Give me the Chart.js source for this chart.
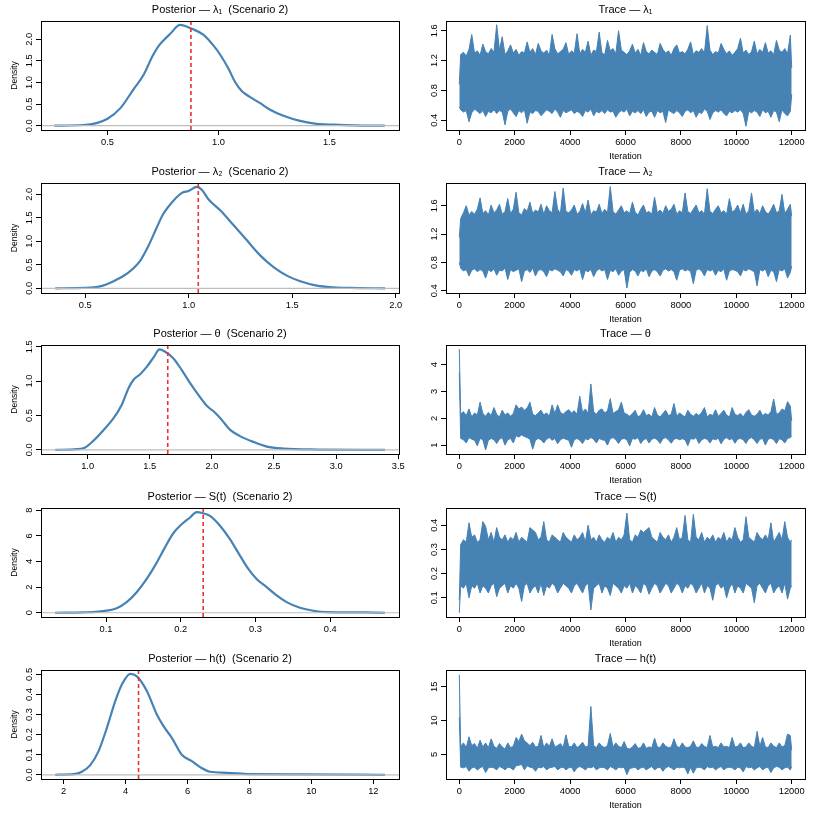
<!DOCTYPE html>
<html><head><meta charset="utf-8">
<script src="https://cdn.jsdelivr.net/npm/chart.js@4.4.1/dist/chart.umd.min.js"></script>
<style>
html,body{margin:0;padding:0;background:#fff;}
body{width:833px;height:819px;position:relative;overflow:hidden;}
canvas{position:absolute;}
</style></head><body>
<script>
// ---------------- DATA ----------------
const densTitles = ['Posterior — λ₁  (Scenario 2)','Posterior — λ₂  (Scenario 2)','Posterior — θ  (Scenario 2)','Posterior — S(t)  (Scenario 2)','Posterior — h(t)  (Scenario 2)'];
const traceTitles = ['Trace — λ₁','Trace — λ₂','Trace — θ','Trace — S(t)','Trace — h(t)'];

const dens1X = [0.26,0.39,0.45,0.50,0.557,0.617,0.662,0.70,0.715,0.73,0.752,0.782,0.827,0.880,0.933,0.978,1.008,1.045,1.075,1.105,1.143,1.188,1.233,1.293,1.368,1.443,1.518,1.608,1.75];
const dens1Y = [0,0.015,0.06,0.16,0.40,0.84,1.17,1.58,1.72,1.84,1.97,2.12,2.33,2.24,2.10,1.85,1.64,1.32,1.01,0.80,0.66,0.52,0.37,0.23,0.11,0.04,0.023,0.008,0];
const dens2X = [0.355,0.492,0.572,0.637,0.701,0.766,0.806,0.846,0.878,0.927,0.967,0.999,1.039,1.064,1.096,1.152,1.217,1.281,1.345,1.410,1.474,1.539,1.619,1.700,1.780,1.949];
const dens2Y = [0,0.007,0.04,0.15,0.31,0.59,0.91,1.30,1.59,1.87,2.03,2.07,2.156,2.09,1.89,1.66,1.34,1.02,0.70,0.45,0.27,0.15,0.057,0.02,0.007,0];
const dens3X = [0.740,0.914,0.981,1.048,1.129,1.209,1.276,1.330,1.370,1.423,1.477,1.531,1.579,1.624,1.691,1.758,1.825,1.906,1.959,2.026,2.080,2.147,2.227,2.334,2.442,2.576,2.844,3.393];
const dens3Y = [0,0.01,0.034,0.135,0.29,0.46,0.66,0.90,1.02,1.10,1.21,1.345,1.461,1.427,1.33,1.16,0.97,0.764,0.64,0.54,0.435,0.29,0.20,0.116,0.048,0.019,0.005,0];
const dens4X = [0.0318,0.0697,0.0964,0.1143,0.1276,0.141,0.1544,0.1655,0.1789,0.190,0.2012,0.2124,0.2213,0.2302,0.2391,0.2525,0.2658,0.2792,0.2904,0.3015,0.3149,0.3283,0.3416,0.3595,0.3773,0.3951,0.4264,0.4486,0.4732];
const dens4Y = [0,0.03,0.13,0.36,0.83,1.6,2.64,3.68,5.1,6.2,6.9,7.43,7.85,7.75,7.56,6.79,5.75,4.46,3.42,2.64,2.0,1.35,0.83,0.39,0.155,0.05,0.03,0.03,0];
const dens5X = [1.73,2.323,2.591,2.86,3.129,3.398,3.667,3.882,4.151,4.366,4.688,5.011,5.226,5.495,5.817,6.14,6.409,6.731,7.269,8.022,9.634,12.376];
const dens5Y = [0,0.003,0.015,0.048,0.118,0.234,0.367,0.45,0.503,0.49,0.417,0.30,0.242,0.184,0.10,0.068,0.038,0.015,0.01,0.003,0.002,0];
const estimates = [0.876, 1.046, 1.645, 0.230, 4.42];

const densXRange = [[0.20,1.814],[0.286,2.016],[0.625,3.506],[0.013,0.492],[1.27,12.83]];
const densYRange = [[-0.1,2.42],[-0.1,2.24],[-0.06,1.525],[-0.33,8.17],[-0.021,0.522]];
const densXTicks = [['0.5','1.0','1.5'],['0.5','1.0','1.5','2.0'],['1.0','1.5','2.0','2.5','3.0','3.5'],['0.1','0.2','0.3','0.4'],['2','4','6','8','10','12']];
const densYTicks = [['0.0','0.5','1.0','1.5','2.0'],['0.0','0.5','1.0','1.5','2.0'],['0.0','0.5','1.0','1.5'],['0','2','4','6','8'],['0.0','0.1','0.2','0.3','0.4','0.5']];

const traceIter = [0,
  50,150,250,350,450,550,650,750,850,950,
  1050,1150,1250,1350,1450,1550,1650,1750,1850,1950,
  2050,2150,2250,2350,2450,2550,2650,2750,2850,2950,
  3050,3150,3250,3350,3450,3550,3650,3750,3850,3950,
  4050,4150,4250,4350,4450,4550,4650,4750,4850,4950,
  5050,5150,5250,5350,5450,5550,5650,5750,5850,5950,
  6050,6150,6250,6350,6450,6550,6650,6750,6850,6950,
  7050,7150,7250,7350,7450,7550,7650,7750,7850,7950,
  8050,8150,8250,8350,8450,8550,8650,8750,8850,8950,
  9050,9150,9250,9350,9450,9550,9650,9750,9850,9950,
  10050,10150,10250,10350,10450,10550,10650,10750,10850,10950,
  11050,11150,11250,11350,11450,11550,11650,11750,11850,11950,
  12000];
const trace1Hi = [0.88,
  1.28,1.31,1.26,1.35,1.55,1.30,1.33,1.27,1.42,1.32,
  1.29,1.36,1.31,1.68,1.34,1.52,1.28,1.33,1.41,1.30,
  1.35,1.27,1.32,1.30,1.45,1.31,1.36,1.28,1.43,1.33,
  1.30,1.34,1.27,1.55,1.36,1.29,1.32,1.35,1.44,1.28,
  1.33,1.30,1.56,1.29,1.35,1.31,1.46,1.27,1.34,1.32,
  1.58,1.30,1.28,1.47,1.33,1.36,1.29,1.60,1.34,1.31,
  1.28,1.33,1.42,1.30,1.35,1.27,1.44,1.32,1.29,1.34,
  1.31,1.28,1.43,1.35,1.30,1.33,1.27,1.36,1.41,1.30,
  1.32,1.29,1.35,1.45,1.28,1.33,1.31,1.36,1.30,1.67,
  1.34,1.28,1.32,1.30,1.43,1.35,1.29,1.33,1.27,1.31,
  1.36,1.50,1.30,1.34,1.28,1.32,1.46,1.29,1.35,1.31,
  1.44,1.30,1.33,1.28,1.47,1.34,1.31,1.36,1.29,1.54,
  1.10];
const trace1Lo = [0.58,
  0.54,0.51,0.53,0.38,0.50,0.55,0.52,0.49,0.53,0.45,
  0.52,0.50,0.54,0.49,0.53,0.51,0.34,0.52,0.55,0.50,
  0.45,0.53,0.50,0.54,0.36,0.51,0.49,0.53,0.52,0.46,
  0.50,0.54,0.52,0.49,0.55,0.51,0.44,0.53,0.50,0.52,
  0.54,0.49,0.52,0.50,0.45,0.53,0.51,0.55,0.46,0.52,
  0.50,0.53,0.49,0.54,0.51,0.52,0.44,0.50,0.53,0.51,
  0.55,0.46,0.52,0.50,0.53,0.49,0.54,0.45,0.51,0.52,
  0.44,0.53,0.50,0.52,0.37,0.54,0.51,0.49,0.53,0.50,
  0.45,0.52,0.54,0.50,0.53,0.44,0.51,0.49,0.55,0.52,
  0.41,0.50,0.53,0.51,0.54,0.49,0.46,0.52,0.50,0.53,
  0.51,0.54,0.49,0.32,0.52,0.50,0.53,0.51,0.45,0.54,
  0.50,0.52,0.44,0.53,0.51,0.38,0.54,0.49,0.46,0.52,
  0.75];
const trace2Hi = [1.15,
  1.42,1.50,1.60,1.47,1.52,1.48,1.55,1.71,1.49,1.53,
  1.47,1.61,1.50,1.54,1.62,1.48,1.52,1.70,1.49,1.55,
  1.79,1.50,1.47,1.56,1.52,1.65,1.49,1.54,1.51,1.62,
  1.48,1.60,1.53,1.50,1.80,1.55,1.49,1.85,1.52,1.50,
  1.54,1.61,1.48,1.52,1.63,1.50,1.68,1.47,1.53,1.51,
  1.62,1.49,1.55,1.50,1.87,1.52,1.48,1.54,1.60,1.50,
  1.53,1.49,1.65,1.51,1.47,1.55,1.61,1.50,1.52,1.48,
  1.72,1.50,1.54,1.49,1.60,1.52,1.55,1.62,1.48,1.53,
  1.50,1.78,1.52,1.49,1.55,1.61,1.50,1.53,1.48,1.84,
  1.52,1.49,1.55,1.60,1.50,1.53,1.48,1.70,1.51,1.54,
  1.61,1.50,1.62,1.48,1.53,1.78,1.50,1.55,1.49,1.60,
  1.52,1.48,1.54,1.62,1.50,1.53,1.76,1.49,1.55,1.62,
  1.45];
const trace2Lo = [0.80,
  0.72,0.68,0.70,0.61,0.69,0.71,0.67,0.70,0.68,0.58,
  0.70,0.67,0.71,0.62,0.69,0.68,0.72,0.56,0.70,0.67,
  0.69,0.71,0.53,0.68,0.70,0.66,0.72,0.61,0.69,0.70,
  0.67,0.60,0.70,0.68,0.71,0.69,0.67,0.61,0.70,0.68,
  0.62,0.70,0.68,0.71,0.56,0.69,0.67,0.70,0.60,0.68,
  0.71,0.68,0.70,0.56,0.69,0.67,0.71,0.62,0.68,0.70,
  0.44,0.66,0.70,0.68,0.61,0.69,0.67,0.71,0.60,0.68,
  0.70,0.67,0.61,0.69,0.71,0.68,0.70,0.67,0.55,0.69,
  0.71,0.68,0.70,0.67,0.50,0.69,0.71,0.68,0.61,0.70,
  0.68,0.70,0.62,0.69,0.67,0.71,0.55,0.68,0.70,0.69,
  0.67,0.61,0.70,0.68,0.71,0.69,0.67,0.47,0.70,0.68,
  0.71,0.60,0.69,0.67,0.53,0.70,0.68,0.71,0.58,0.66,
  0.75];
const trace3Hi = [4.58,
  2.15,2.25,2.10,2.35,2.05,2.20,2.12,2.60,2.18,2.08,
  2.22,2.10,2.40,2.15,2.05,2.30,2.12,2.20,2.08,2.18,
  2.50,2.35,2.42,2.30,2.38,2.60,2.15,2.10,2.20,2.30,
  2.12,2.20,2.08,2.50,2.18,2.50,2.22,2.15,2.25,2.32,
  2.20,2.28,2.15,2.82,2.22,2.35,2.18,3.28,2.25,2.15,
  2.30,2.35,2.20,2.28,2.73,2.18,2.25,2.32,2.60,2.20,
  2.15,2.08,2.18,2.30,2.05,2.12,2.32,2.10,2.15,2.05,
  2.40,2.12,2.05,2.18,2.30,2.10,2.15,2.55,2.08,2.20,
  2.12,2.05,2.30,2.15,2.08,2.18,2.10,2.22,2.40,2.05,
  2.15,2.10,2.32,2.08,2.18,2.30,2.12,2.05,2.40,2.15,
  2.10,2.18,2.05,2.22,2.32,2.12,2.08,2.15,2.30,2.10,
  2.18,2.12,2.25,2.72,2.15,2.20,2.35,2.28,2.62,2.45,
  1.90];
const trace3Lo = [3.70,
  1.25,1.20,1.08,1.28,1.22,1.18,0.98,1.25,1.20,0.82,
  1.18,1.25,1.20,1.06,1.22,1.28,1.00,1.20,1.25,1.08,
  1.35,1.30,1.38,1.32,1.28,1.22,0.85,1.18,1.25,1.20,
  1.08,1.22,1.28,1.18,1.25,1.05,1.20,1.26,1.22,1.18,
  0.92,1.20,1.25,1.18,1.06,1.24,1.20,1.28,1.22,1.08,
  1.25,1.20,1.18,1.00,1.24,1.28,1.20,1.06,1.22,1.25,
  1.20,0.97,1.25,1.22,1.28,1.06,1.20,1.25,1.08,1.22,
  1.26,1.20,1.06,1.24,1.28,1.20,1.07,1.22,1.25,1.20,
  1.24,1.20,0.98,1.25,1.22,1.28,1.06,1.20,1.25,1.22,
  1.08,1.24,1.20,1.26,1.05,1.22,1.28,1.20,1.25,1.07,
  1.22,1.25,1.20,1.06,1.24,1.28,1.20,1.06,1.22,1.25,
  1.00,1.22,1.26,1.20,1.06,1.24,1.20,1.08,1.25,1.28,
  1.35];
const trace4Hi = [0.09,
  0.32,0.34,0.33,0.41,0.35,0.36,0.33,0.34,0.415,0.395,
  0.34,0.37,0.33,0.39,0.35,0.34,0.36,0.33,0.35,0.34,
  0.37,0.33,0.35,0.34,0.33,0.39,0.38,0.37,0.34,0.35,
  0.415,0.34,0.33,0.36,0.35,0.34,0.33,0.37,0.35,0.34,
  0.33,0.36,0.34,0.35,0.37,0.33,0.40,0.34,0.35,0.33,
  0.36,0.34,0.33,0.35,0.34,0.37,0.33,0.35,0.34,0.36,
  0.45,0.34,0.33,0.36,0.35,0.38,0.37,0.38,0.39,0.35,
  0.34,0.33,0.37,0.35,0.34,0.36,0.33,0.35,0.39,0.34,
  0.35,0.44,0.34,0.33,0.445,0.35,0.34,0.37,0.33,0.35,
  0.34,0.36,0.33,0.35,0.34,0.37,0.33,0.35,0.34,0.39,
  0.35,0.33,0.34,0.435,0.35,0.34,0.33,0.37,0.35,0.34,
  0.36,0.34,0.41,0.33,0.35,0.37,0.34,0.415,0.35,0.33,
  0.34];
const trace4Lo = [0.038,
  0.15,0.14,0.16,0.10,0.15,0.14,0.16,0.12,0.15,0.14,
  0.12,0.15,0.16,0.105,0.14,0.15,0.16,0.12,0.15,0.14,
  0.16,0.14,0.085,0.15,0.16,0.12,0.14,0.15,0.12,0.16,
  0.11,0.15,0.14,0.16,0.15,0.12,0.14,0.16,0.15,0.14,
  0.12,0.15,0.16,0.14,0.12,0.15,0.16,0.05,0.14,0.15,
  0.16,0.12,0.15,0.14,0.11,0.16,0.15,0.14,0.12,0.15,
  0.14,0.16,0.12,0.15,0.14,0.12,0.16,0.15,0.115,0.14,
  0.16,0.15,0.12,0.14,0.16,0.15,0.12,0.14,0.16,0.15,
  0.12,0.15,0.14,0.16,0.15,0.12,0.14,0.16,0.12,0.15,
  0.14,0.09,0.15,0.16,0.14,0.15,0.10,0.14,0.16,0.12,
  0.15,0.14,0.12,0.16,0.15,0.14,0.08,0.15,0.16,0.14,
  0.12,0.15,0.16,0.12,0.14,0.15,0.12,0.16,0.095,0.14,
  0.15];
const trace5Hi = [16.8,
  6.2,6.7,6.0,7.6,6.3,6.6,5.9,7.1,6.1,6.7,
  6.0,7.3,6.2,5.9,6.6,6.1,5.8,6.7,6.0,6.2,
  7.5,6.9,8.0,7.0,6.7,6.3,6.8,6.1,6.2,7.8,
  6.0,6.7,6.2,7.3,6.1,6.3,6.6,6.0,7.9,6.2,
  6.1,6.7,6.0,6.3,6.8,6.1,6.2,12.1,6.3,6.0,
  6.7,6.2,6.0,6.3,8.1,6.1,6.7,6.2,6.0,6.9,
  5.9,5.8,6.1,6.6,5.9,6.0,6.7,5.9,6.1,6.0,
  7.4,6.1,6.0,6.7,6.2,6.0,6.1,7.3,6.2,6.0,
  6.7,6.1,6.0,6.2,7.0,6.1,6.0,6.6,6.2,6.0,
  7.8,6.1,6.2,6.0,6.7,6.1,6.2,6.0,7.5,6.1,
  6.2,6.7,6.0,6.1,6.7,6.2,6.0,8.4,6.2,7.5,
  6.1,6.0,6.7,6.2,6.0,6.7,6.1,6.3,8.0,7.8,
  5.6];
const trace5Lo = [10.5,
  3.1,3.0,3.2,2.5,3.0,3.1,2.7,3.0,3.2,2.3,
  3.0,3.1,3.0,2.7,3.2,3.0,2.7,3.1,3.0,2.7,
  3.3,3.4,3.5,2.7,3.3,3.1,3.0,2.5,3.1,3.0,
  3.2,2.7,3.0,3.1,3.2,2.7,3.0,3.1,2.7,3.0,
  3.1,2.4,3.0,3.2,3.0,2.7,3.1,3.0,3.2,2.7,
  3.0,3.1,3.0,2.7,3.2,3.0,2.7,3.1,3.0,3.1,
  2.0,2.9,3.0,3.1,2.7,3.0,3.1,2.7,3.0,3.2,
  2.7,3.0,3.1,2.5,3.0,3.2,3.0,2.7,3.1,3.0,
  3.1,3.0,2.1,3.1,2.2,3.0,3.1,3.0,2.7,3.2,
  3.0,3.1,2.7,3.0,3.2,2.7,3.0,3.1,3.0,2.7,
  3.1,3.0,2.4,3.2,3.0,3.1,2.7,3.0,3.2,2.7,
  3.0,3.1,2.3,3.0,3.2,3.1,2.7,3.0,3.1,2.7,
  3.2];

const traceXRange = [-480, 12480];
const traceYRange = [[0.27,1.73],[0.37,1.92],[0.67,4.73],[0.021,0.471],[1.35,17.5]];
const traceXTicks = ['0','2000','4000','6000','8000','10000','12000'];
const traceYTicks = [['0.4','0.8','1.2','1.6'],['0.4','0.8','1.2','1.6'],['1','2','3','4'],['0.1','0.2','0.3','0.4'],['5','10','15']];

// ---------------- STYLE / LAYOUT ----------------
const FONT = '"Liberation Sans", Arial, Helvetica, sans-serif';
const BLUE = '#4682B4';
const rowTop = [21,183,345,508,670];
const rowBottom = [130,293,454,617,779];
const TITLE_H = 20, AXIS_H = 34, TL = 5;
const TICK_FONT = 9.3, TITLE_FONT = 11;
const mctx = document.createElement('canvas').getContext('2d');
mctx.font = TICK_FONT + 'px ' + FONT;
function yPad(labels, offset){
  const w = Math.max(...labels.map(s => mctx.measureText(s).width));
  return offset - TL - w / 2;
}
function makeCanvas(left, top, w, h){
  const c = document.createElement('canvas');
  c.width = w; c.height = h;
  c.style.left = left + 'px'; c.style.top = top + 'px';
  c.style.width = w + 'px'; c.style.height = h + 'px';
  document.body.appendChild(c);
  return c;
}
const boxPlugin = {
  id: 'box',
  afterDraw(chart){
    const a = chart.chartArea, ctx = chart.ctx;
    ctx.save();
    ctx.strokeStyle = '#000'; ctx.lineWidth = 1;
    ctx.strokeRect(Math.round(a.left) + 0.5, Math.round(a.top) + 0.5, Math.round(a.right - a.left), Math.round(a.bottom - a.top));
    ctx.restore();
  }
};
function xScale(labels, range, titleText){
  const vals = labels.map(Number);
  return {
    type: 'linear', min: range[0], max: range[1],
    afterBuildTicks: s => { s.ticks = vals.map(v => ({value: v})); },
    afterFit: s => { s.height = AXIS_H; },
    ticks: { autoSkip: false, maxRotation: 0, minRotation: 0, padding: 2, color: '#000',
             font: { size: TICK_FONT, family: FONT }, callback: (v, i) => labels[i] },
    grid: { display: true, drawOnChartArea: false, drawTicks: true, tickLength: TL, color: '#000', lineWidth: 1 },
    border: { display: true, color: '#000', width: 1 },
    title: titleText ? { display: true, text: titleText, color: '#000', font: { size: 9, family: FONT },
             padding: { top: 0, bottom: 2.2 } } : { display: false }
  };
}
function yScale(labels, range, width, titleText){
  const vals = labels.map(Number);
  return {
    type: 'linear', min: range[0], max: range[1],
    afterBuildTicks: s => { s.ticks = vals.map(v => ({value: v})); },
    afterFit: s => { s.width = width; },
    ticks: { autoSkip: false, minRotation: 90, maxRotation: 90, crossAlign: 'center',
             padding: yPad(labels, 12), color: '#000',
             font: { size: TICK_FONT, family: FONT }, callback: (v, i) => labels[i] },
    grid: { display: true, drawOnChartArea: false, drawTicks: true, tickLength: TL, color: '#000', lineWidth: 1 },
    border: { display: true, color: '#000', width: 1 },
    title: titleText ? { display: true, text: titleText, color: '#000', font: { size: 8.5, family: FONT },
             padding: { top: 9.9, bottom: 0 } } : { display: false }
  };
}
function commonOptions(title, rightPad){
  return {
    responsive: false, animation: false, events: [],
    layout: { padding: { left: 0, right: rightPad, top: 0, bottom: 0 } },
    plugins: {
      legend: { display: false }, tooltip: { enabled: false },
      title: { display: true, text: title, fullSize: false, color: '#000',
               font: { size: TITLE_FONT, family: FONT, weight: 'normal' },
               padding: { top: 2, bottom: TITLE_H - 2 - TITLE_FONT * 1.2 } }
    }
  };
}

const densX = [dens1X, dens2X, dens3X, dens4X, dens5X];
const densY = [dens1Y, dens2Y, dens3Y, dens4Y, dens5Y];
const traceHi = [trace1Hi, trace2Hi, trace3Hi, trace4Hi, trace5Hi];
const traceLo = [trace1Lo, trace2Lo, trace3Lo, trace4Lo, trace5Lo];

for (let r = 0; r < 5; r++) {
  const top = rowTop[r] - TITLE_H;
  const h = TITLE_H + (rowBottom[r] - rowTop[r]) + AXIS_H;
  // ---- density panel ----
  {
    const c = makeCanvas(0, top, 409, h);
    const xr = densXRange[r], yr = densYRange[r];
    const opts = commonOptions(densTitles[r], 10);
    opts.scales = { x: xScale(densXTicks[r], xr, null), y: yScale(densYTicks[r], yr, 41, 'Density') };
    new Chart(c, {
      type: 'line',
      data: { datasets: [
        { data: [{x: estimates[r], y: yr[0]}, {x: estimates[r], y: yr[1]}], borderColor: '#ee3030', borderWidth: 1.6, borderDash: [4, 3], pointRadius: 0, fill: false },
        { data: [{x: xr[0], y: 0}, {x: xr[1], y: 0}], borderColor: '#bebebe', borderWidth: 1.2, pointRadius: 0, fill: false },
        { data: densX[r].map((x, i) => ({x, y: densY[r][i]})), borderColor: BLUE, borderWidth: 2.2, pointRadius: 0, fill: false, cubicInterpolationMode: 'monotone' }
      ]},
      options: opts,
      plugins: [boxPlugin]
    });
  }
  // ---- trace panel ----
  {
    const c = makeCanvas(406, top, 411, h);
    const opts = commonOptions(traceTitles[r], 12);
    opts.scales = { x: xScale(traceXTicks, traceXRange, 'Iteration'), y: yScale(traceYTicks[r], traceYRange[r], 40, null) };
    new Chart(c, {
      type: 'line',
      data: { datasets: [
        { data: traceIter.map((x, i) => ({x, y: traceHi[r][i]})), borderColor: BLUE, backgroundColor: BLUE, borderWidth: 1, pointRadius: 0, fill: '+1' },
        { data: traceIter.map((x, i) => ({x, y: traceLo[r][i]})), borderColor: BLUE, borderWidth: 1, pointRadius: 0, fill: false }
      ]},
      options: opts,
      plugins: [boxPlugin]
    });
  }
}
</script>
</body></html>
